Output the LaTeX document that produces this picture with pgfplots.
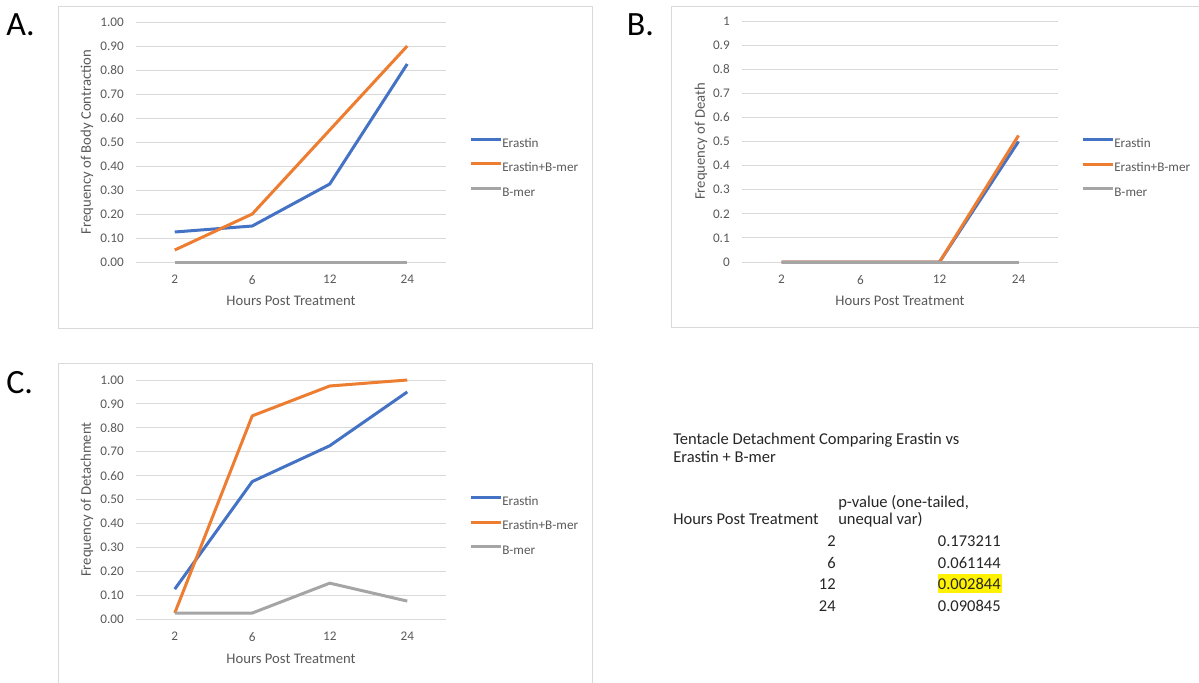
\documentclass[border=0pt]{standalone}
\usepackage{pgfplots}
\pgfplotsset{compat=1.18}
\usepackage{fontspec}
\setmainfont{Carlito}
\definecolor{eblue}{HTML}{4472C4}
\definecolor{eorange}{HTML}{ED7D31}
\definecolor{egray}{HTML}{A5A5A5}
\definecolor{txt}{HTML}{595959}
\definecolor{gridc}{HTML}{D9D9D9}
\definecolor{frm}{HTML}{D9D9D9}
\newcommand{\tickfont}{\fontsize{9.9}{11}\selectfont}
\newcommand{\titlefont}{\fontsize{11}{13}\selectfont}
\newcommand{\tabfont}{\fontsize{12.4}{14}\selectfont}
\pgfplotsset{
  excel/.style={
    scale only axis, clip=false,
    xmin=-0.5, xmax=3.5, ymin=0, ymax=1,
    xtick={0,1,2,3}, xticklabels={2,6,12,24},
    ytick={0,0.1,0.2,0.3,0.4,0.5,0.6,0.7,0.8,0.9,1},
    axis line style={draw=none},
    major tick length=0pt,
    ymajorgrids,
    grid style={draw=gridc, line width=0.75pt},
    tick label style={font=\tickfont, text=txt, inner sep=0pt},
    /pgf/number format/assume math mode=true,
    xticklabel style={anchor=north, yshift=-9.75pt},
    yticklabel style={anchor=east, xshift=-9pt},
    xlabel={Hours Post Treatment},
    xlabel style={font=\titlefont, text=txt, anchor=center},
    ylabel style={font=\titlefont, text=txt, anchor=center},
    every axis plot/.append style={line width=2.25pt, no markers, line join=round},
    legend image code/.code={\draw[#1] (0pt,3.4pt) -- (22.5pt,3.4pt);},
    legend style={draw=none, fill=none, inner sep=0pt, anchor=west, font=\tickfont, text=txt,
      row sep=9.45pt, nodes={inner sep=0pt, text height=7pt, text depth=2pt},
      /tikz/every odd column/.append style={column sep=0pt}},
    legend cell align=left,
  },
  twodec/.style={yticklabel style={/pgf/number format/.cd, fixed, fixed zerofill, precision=2}},
}
\begin{document}
\begin{tikzpicture}
\path[use as bounding box] (0pt,0pt) rectangle (899.25pt,-511.5pt);
% frames
\draw[frm, line width=0.75pt] (43.5pt,-4.5pt) rectangle (444pt,-246pt);
\draw[frm, line width=0.75pt] (503.25pt,-4.5pt) rectangle (910pt,-245.25pt);
\draw[frm, line width=0.75pt] (43.5pt,-272.25pt) rectangle (444pt,-520pt);
% panel letters
\node[anchor=base west, inner sep=0pt, font=\fontsize{25.5}{28}\selectfont] at (4.5pt,-26.25pt) {A.};
\node[anchor=base west, inner sep=0pt, font=\fontsize{25.5}{28}\selectfont] at (470pt,-26.25pt) {B.};
\node[anchor=base west, inner sep=0pt, font=\fontsize{25.5}{28}\selectfont] at (4.5pt,-294.75pt) {C.};

% Panel A
\begin{axis}[excel, twodec,
  at={(102pt,-196.5pt)}, anchor=south west,
  width=232.5pt, height=180pt,
  ylabel={Frequency of Body Contraction},
  xlabel style={at={(axis description cs:0.5,-0.1625)}},
  ylabel style={at={(axis description cs:-0.158,0.5)}},
  legend style={at={(axis description cs:1.0742,0.3896)}},
]
\addplot[eblue] coordinates {(0,0.125) (1,0.15) (2,0.325) (3,0.825)};
\addplot[eorange] coordinates {(0,0.05) (1,0.2) (2,0.55) (3,0.9)};
\addplot[egray] coordinates {(0,0) (1,0) (2,0) (3,0)};
\legend{Erastin, Erastin+B-mer, B-mer}
\end{axis}

% Panel B
\begin{axis}[excel,
  at={(556.5pt,-196.5pt)}, anchor=south west,
  width=237pt, height=180.75pt,
  ylabel={Frequency of Death},
  xlabel style={at={(axis description cs:0.5,-0.1618)}},
  ylabel style={at={(axis description cs:-0.1297,0.5)}},
  legend style={at={(axis description cs:1.0728,0.3876)}},
]
\addplot[eblue] coordinates {(0,0) (1,0) (2,0) (3,0.5)};
\addplot[eorange] coordinates {(0,0) (1,0) (2,0) (3,0.525)};
\addplot[egray] coordinates {(0,0) (1,0) (2,0) (3,0)};
\legend{Erastin, Erastin+B-mer, B-mer}
\end{axis}

% Panel C
\begin{axis}[excel, twodec,
  at={(102pt,-464.25pt)}, anchor=south west,
  width=232.5pt, height=179.25pt,
  ylabel={Frequency of Detachment},
  xlabel style={at={(axis description cs:0.5,-0.1674)}},
  ylabel style={at={(axis description cs:-0.158,0.5)}},
  legend style={at={(axis description cs:1.0742,0.387)}},
]
\addplot[eblue] coordinates {(0,0.125) (1,0.575) (2,0.725) (3,0.95)};
\addplot[eorange] coordinates {(0,0.025) (1,0.85) (2,0.975) (3,1.0)};
\addplot[egray] coordinates {(0,0.025) (1,0.025) (2,0.15) (3,0.075)};
\legend{Erastin, Erastin+B-mer, B-mer}
\end{axis}

% p-value table
\fill[yellow] (703.5pt,-430.5pt) rectangle (751.5pt,-444.75pt);
\begin{scope}[every node/.style={inner sep=0pt, font=\tabfont, text=black!85}]
\node[anchor=base west] at (504.75pt,-333pt) {Tentacle Detachment Comparing Erastin vs};
\node[anchor=base west] at (504.75pt,-346.5pt) {Erastin + B-mer};
\node[anchor=base west] at (628.5pt,-380.25pt) {p-value (one-tailed,};
\node[anchor=base west] at (628.5pt,-393pt) {unequal var)};
\node[anchor=base west] at (504.75pt,-393pt) {Hours Post Treatment};
\node[anchor=base east] at (627pt,-409.5pt) {2};
\node[anchor=base east] at (627pt,-426pt) {6};
\node[anchor=base east] at (627pt,-441.75pt) {12};
\node[anchor=base east] at (627pt,-458.25pt) {24};
\node[anchor=base east] at (750.75pt,-409.5pt) {0.173211};
\node[anchor=base east] at (750.75pt,-426pt) {0.061144};
\node[anchor=base east] at (750.75pt,-441.75pt) {0.002844};
\node[anchor=base east] at (750.75pt,-458.25pt) {0.090845};
\end{scope}
\end{tikzpicture}
\end{document}
